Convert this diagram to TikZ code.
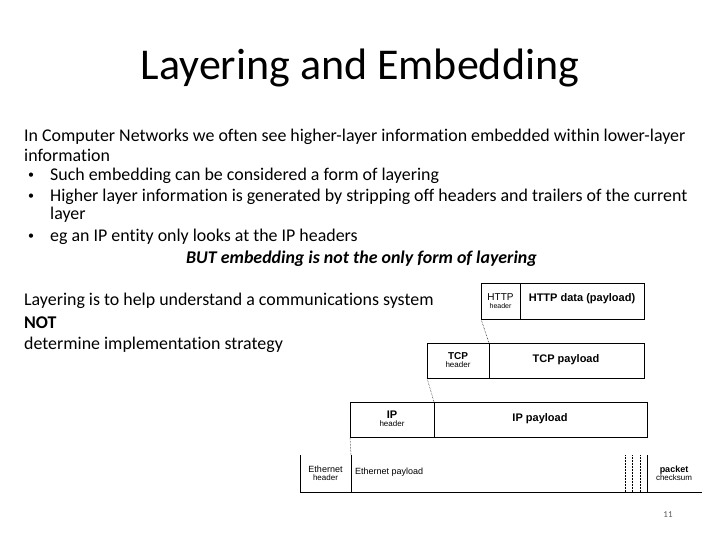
\documentclass[tikz,border=0pt]{standalone}
\usepackage{fontspec}
\setmainfont[Ligatures=NoCommon]{Carlito}
\newfontfamily\arialf{Liberation Sans}
\begin{document}
\begin{tikzpicture}[x=1pt,y=-1pt,
  bt/.style={anchor=west,font=\fontsize{17.9}{19}\selectfont,inner sep=0},
  box/.style={draw,line width=0.8pt},
  pl/.style={font=\arialf\fontsize{11}{11}\selectfont,align=center,inner sep=0},
  hl/.style={font=\arialf\fontsize{8}{8}\selectfont,align=center,inner sep=0},
  dots/.style={densely dotted,line width=0.5pt}]
\useasboundingbox (0,0) rectangle (720,540);
\node (title) at (360,68) {\fontsize{44}{48}\selectfont Layering and Embedding};
\node[bt] (l1) at (24,137) {In Computer Networks we often see higher-layer information embedded within lower-layer};
\node[bt] (l2) at (24,155) {information};
\node[bt] (b1) at (28,176) {\fontsize{12}{12}\selectfont•};
\node[bt] (b1t) at (50,176) {Such embedding can be considered a form of layering};
\node[bt] (b2) at (28,197) {\fontsize{12}{12}\selectfont•};
\node[bt] (b2t) at (50,197) {Higher layer information is generated by stripping off headers and trailers of the current};
\node[bt] (b2b) at (50,215) {layer};
\node[bt] (b3) at (28,237) {\fontsize{12}{12}\selectfont•};
\node[bt] (b3t) at (50,237) {eg an IP entity only looks at the IP headers};
\node[bt] (but) at (186,259) {\itshape\bfseries BUT embedding is not the only form of layering};
\node[bt] (m1) at (24,301) {Layering is to help understand a communications system};
\node[bt] (m2) at (24,323) {\bfseries NOT};
\node[bt] (m3) at (24,345) {determine implementation strategy};
% HTTP
\draw[box] (481,283) rectangle (644,319);
\draw[line width=0.5pt] (520,283) -- (520,319);
\node[hl] (hh) at (500.5,301) {\fontsize{10}{10}\selectfont HTTP\\\fontsize{7}{8}\selectfont header};
\node[pl] (hp) at (582,299) {\bfseries HTTP data (payload)};
% TCP
\draw[box] (427,343) rectangle (644,378);
\draw[line width=0.5pt] (489,343) -- (489,378);
\node[hl] (th) at (458,360) {\fontsize{10}{10}\selectfont\bfseries TCP\\header};
\node[pl] (tp) at (566,360) {\bfseries TCP payload};
% IP
\draw[box] (350,402) rectangle (647,437);
\draw[line width=0.5pt] (434,402) -- (434,437);
\node[hl] (ih) at (392,419) {\fontsize{11}{11}\selectfont\bfseries IP\\header};
\node[pl] (ip) at (540,419) {\bfseries IP payload};
% Ethernet
\draw[line width=1pt] (300,455) -- (300,493);
\draw[line width=1pt] (351,455) -- (351,493);
\draw[line width=0.8pt] (647,455) -- (647,493);
\draw[line width=0.6pt] (300,492) -- (702,492);
\draw[dots] (625,455) -- (625,492) (632,455) -- (632,492) (640,455) -- (640,492);
\node[hl] (eh) at (325.5,473) {\fontsize{9}{10}\selectfont Ethernet\\header};
\node[pl,anchor=west] (ep) at (355,472) {\fontsize{9}{10}\selectfont Ethernet payload};
\node[hl] (ec) at (674,473) {\fontsize{9}{10}\selectfont\bfseries packet\\checksum};
% dotted connectors
\draw[dots] (489,343) -- (481,319);
\draw[dots] (434,402) -- (427,378);
\draw[dots] (351,455) -- (350,437);
\node (pg) at (668,515) {\fontsize{9}{10}\selectfont\color{gray!70!black}11};
\end{tikzpicture}
\end{document}
